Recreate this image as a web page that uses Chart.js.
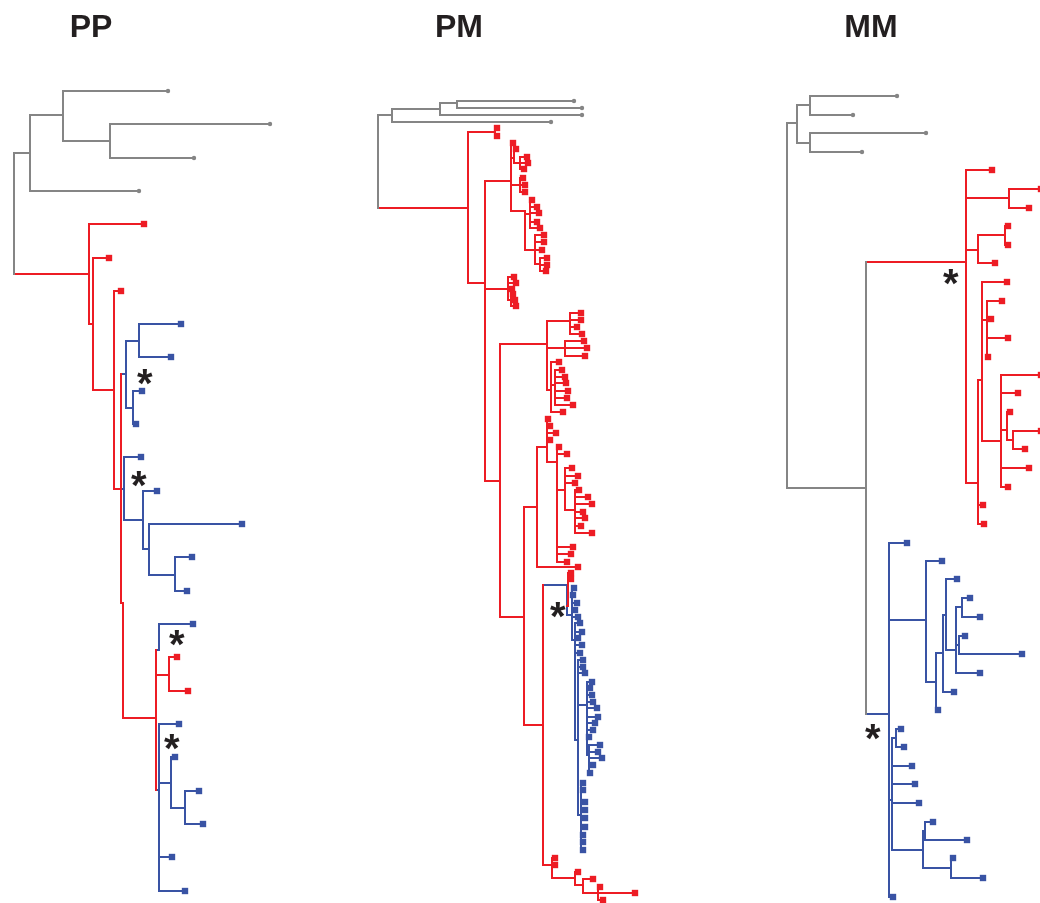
<!DOCTYPE html>
<html>
<head>
<meta charset="utf-8">
<script src="https://cdn.jsdelivr.net/npm/chart.js@4.4.1/dist/chart.umd.min.js"></script>
<style>
  html, body { margin: 0; padding: 0; background: #fff; }
  canvas { display: block; }
</style>
</head>
<body>
<canvas id="chart" width="1040" height="903"></canvas>
<script>
// panel titles
const panelNames = ['PP', 'PM', 'MM'];

// tree nodes: [id, parent, depth from root, vertical position, group]
// group: o = outgroup (grey), p = red clade, m = blue clade; leaves have no id
const ppTree = [
  ['r', '', 0, 214, 'o'],
  ['A', 'r', 16, 153, 'o'],
  ['B', 'A', 49, 115, 'o'],
  ['', 'B', 154, 91, 'o'],
  ['C', 'B', 96, 141, 'o'],
  ['', 'C', 256, 124, 'o'],
  ['', 'C', 180, 158, 'o'],
  ['', 'A', 125, 191, 'o'],
  ['R', 'r', 75, 274, 'p'],
  ['', 'R', 130, 224, 'p'],
  ['R2', 'R', 79, 324, 'p'],
  ['', 'R2', 95, 258, 'p'],
  ['R3', 'R2', 100, 390, 'p'],
  ['', 'R3', 107, 291, 'p'],
  ['R4', 'R3', 107, 489, 'p'],
  ['B1', 'R4', 112, 374, 'm'],
  ['B1a', 'B1', 125, 341, 'm'],
  ['', 'B1a', 167, 324, 'm'],
  ['', 'B1a', 157, 357, 'm'],
  ['B1b', 'B1', 119, 408, 'm'],
  ['', 'B1b', 128, 391, 'm'],
  ['', 'B1b', 122, 424, 'm'],
  ['B2', 'R4', 110, 489, 'm'],
  ['', 'B2', 127, 457, 'm'],
  ['B2a', 'B2', 129, 520, 'm'],
  ['', 'B2a', 143, 491, 'm'],
  ['B2b', 'B2a', 135, 549, 'm'],
  ['', 'B2b', 228, 524, 'm'],
  ['B2c', 'B2b', 161, 575, 'm'],
  ['', 'B2c', 178, 557, 'm'],
  ['', 'B2c', 173, 591, 'm'],
  ['R5', 'R4', 109, 603, 'p'],
  ['R6', 'R5', 142, 718, 'p'],
  ['B3', 'R6', 145, 650, 'm'],
  ['', 'B3', 179, 624, 'm'],
  ['Rs', 'R6', 155, 675, 'p'],
  ['', 'Rs', 163, 657, 'p'],
  ['', 'Rs', 174, 691, 'p'],
  ['B4', 'R6', 145, 790, 'm'],
  ['', 'B4', 165, 724, 'm'],
  ['B4a', 'B4', 157, 783, 'm'],
  ['', 'B4a', 161, 757, 'm'],
  ['B4b', 'B4a', 171, 808, 'm'],
  ['', 'B4b', 185, 791, 'm'],
  ['', 'B4b', 189, 824, 'm'],
  ['', 'B4', 158, 857, 'm'],
  ['', 'B4', 171, 891, 'm']
];

const pmTree = [
  ['r', '', 0, 160, 'o'],
  ['G1', 'r', 14, 115, 'o'],
  ['G2', 'G1', 62, 109, 'o'],
  ['G3', 'G2', 79, 103, 'o'],
  ['', 'G3', 196, 101, 'o'],
  ['', 'G3', 204, 108, 'o'],
  ['', 'G2', 204, 115, 'o'],
  ['', 'G1', 173, 122, 'o'],
  ['P1', 'r', 90, 208, 'p'],
  ['Pa', 'P1', 117, 132, 'p'],
  ['', 'Pa', 119, 128, 'p'],
  ['', 'Pa', 119, 136, 'p'],
  ['P2', 'P1', 107, 283, 'p'],
  ['P3', 'P2', 133, 181, 'p'],
  ['', 'P3', 135, 143, 'p'],
  ['n31', 'P3', 136, 158, 'p'],
  ['', 'n31', 138, 149, 'p'],
  ['n311', 'n31', 142, 163, 'p'],
  ['', 'n311', 149, 157, 'p'],
  ['', 'n311', 150, 163, 'p'],
  ['', 'n311', 146, 169, 'p'],
  ['n32', 'P3', 142, 185, 'p'],
  ['', 'n32', 145, 178, 'p'],
  ['', 'n32', 147, 185, 'p'],
  ['', 'n32', 147, 192, 'p'],
  ['P3b', 'P3', 147, 211, 'p'],
  ['n33', 'P3b', 152, 214, 'p'],
  ['', 'n33', 154, 200, 'p'],
  ['', 'n33', 159, 207, 'p'],
  ['', 'n33', 161, 213, 'p'],
  ['', 'n33', 159, 222, 'p'],
  ['', 'n33', 162, 228, 'p'],
  ['n34', 'P3b', 157, 250, 'p'],
  ['', 'n34', 166, 235, 'p'],
  ['', 'n34', 166, 242, 'p'],
  ['', 'n34', 164, 250, 'p'],
  ['n35', 'n34', 162, 264, 'p'],
  ['', 'n35', 169, 258, 'p'],
  ['', 'n35', 169, 265, 'p'],
  ['', 'n35', 168, 271, 'p'],
  ['P4', 'P2', 130, 289, 'p'],
  ['', 'P4', 136, 277, 'p'],
  ['', 'P4', 138, 283, 'p'],
  ['', 'P4', 134, 289, 'p'],
  ['n41', 'P4', 133, 300, 'p'],
  ['', 'n41', 135, 294, 'p'],
  ['', 'n41', 137, 300, 'p'],
  ['', 'n41', 138, 306, 'p'],
  ['P5', 'P2', 122, 481, 'p'],
  ['M1', 'P5', 169, 344, 'p'],
  ['M1a', 'M1', 192, 321, 'p'],
  ['', 'M1a', 203, 313, 'p'],
  ['', 'M1a', 203, 320, 'p'],
  ['', 'M1a', 199, 327, 'p'],
  ['', 'M1a', 204, 334, 'p'],
  ['M1b', 'M1', 187, 348, 'p'],
  ['', 'M1b', 206, 341, 'p'],
  ['', 'M1b', 209, 348, 'p'],
  ['', 'M1b', 207, 356, 'p'],
  ['M1c', 'M1', 173, 390, 'p'],
  ['', 'M1c', 181, 362, 'p'],
  ['M1d', 'M1c', 177, 385, 'p'],
  ['', 'M1d', 184, 370, 'p'],
  ['', 'M1d', 187, 377, 'p'],
  ['', 'M1d', 188, 383, 'p'],
  ['', 'M1d', 190, 391, 'p'],
  ['', 'M1d', 189, 398, 'p'],
  ['', 'M1d', 195, 405, 'p'],
  ['', 'M1c', 185, 412, 'p'],
  ['P5b', 'P5', 146, 617, 'p'],
  ['M2', 'P5b', 159, 507, 'p'],
  ['M2a', 'M2', 169, 447, 'p'],
  ['', 'M2a', 170, 419, 'p'],
  ['', 'M2a', 172, 426, 'p'],
  ['', 'M2a', 178, 433, 'p'],
  ['', 'M2a', 172, 440, 'p'],
  ['M2b', 'M2a', 179, 462, 'p'],
  ['', 'M2b', 181, 447, 'p'],
  ['', 'M2b', 189, 454, 'p'],
  ['M2c', 'M2b', 187, 490, 'p'],
  ['', 'M2c', 194, 468, 'p'],
  ['', 'M2c', 200, 476, 'p'],
  ['', 'M2c', 197, 483, 'p'],
  ['M2d', 'M2c', 197, 510, 'p'],
  ['', 'M2d', 201, 490, 'p'],
  ['', 'M2d', 210, 497, 'p'],
  ['', 'M2d', 214, 504, 'p'],
  ['', 'M2d', 205, 512, 'p'],
  ['', 'M2d', 207, 518, 'p'],
  ['', 'M2d', 203, 526, 'p'],
  ['', 'M2d', 214, 533, 'p'],
  ['', 'M2b', 195, 547, 'p'],
  ['', 'M2b', 193, 554, 'p'],
  ['', 'M2b', 189, 562, 'p'],
  ['', 'M2', 200, 567, 'p'],
  ['P5c', 'P5b', 165, 725, 'p'],
  ['Q', 'P5c', 189, 585, 'm'],
  ['QR', 'Q', 190, 606, 'p'],
  ['', 'QR', 193, 573, 'p'],
  ['', 'QR', 193, 579, 'p'],
  ['QB1', 'Q', 194, 615, 'm'],
  ['', 'QB1', 196, 588, 'm'],
  ['', 'QB1', 195, 595, 'm'],
  ['', 'QB1', 199, 603, 'm'],
  ['', 'QB1', 197, 610, 'm'],
  ['', 'QB1', 200, 617, 'm'],
  ['QB2', 'QB1', 197, 640, 'm'],
  ['', 'QB2', 202, 623, 'm'],
  ['', 'QB2', 204, 632, 'm'],
  ['', 'QB2', 200, 638, 'm'],
  ['', 'QB2', 204, 645, 'm'],
  ['', 'QB2', 202, 653, 'm'],
  ['QB3', 'QB2', 200, 740, 'm'],
  ['', 'QB3', 205, 660, 'm'],
  ['', 'QB3', 205, 667, 'm'],
  ['', 'QB3', 207, 673, 'm'],
  ['QB4', 'QB3', 209, 705, 'm'],
  ['', 'QB4', 214, 682, 'm'],
  ['', 'QB4', 212, 688, 'm'],
  ['', 'QB4', 214, 695, 'm'],
  ['', 'QB4', 215, 702, 'm'],
  ['', 'QB4', 219, 708, 'm'],
  ['', 'QB4', 220, 717, 'm'],
  ['', 'QB4', 217, 723, 'm'],
  ['', 'QB4', 215, 730, 'm'],
  ['', 'QB4', 211, 737, 'm'],
  ['QB6', 'QB4', 211, 755, 'm'],
  ['', 'QB6', 222, 745, 'm'],
  ['', 'QB6', 220, 752, 'm'],
  ['', 'QB6', 224, 758, 'm'],
  ['', 'QB6', 215, 765, 'm'],
  ['', 'QB6', 212, 773, 'm'],
  ['QB5', 'QB3', 203, 815, 'm'],
  ['', 'QB5', 205, 783, 'm'],
  ['', 'QB5', 205, 790, 'm'],
  ['', 'QB5', 207, 802, 'm'],
  ['', 'QB5', 207, 810, 'm'],
  ['', 'QB5', 207, 818, 'm'],
  ['', 'QB5', 207, 827, 'm'],
  ['', 'QB5', 205, 835, 'm'],
  ['', 'QB5', 205, 842, 'm'],
  ['', 'QB5', 205, 850, 'm'],
  ['P6', 'P5c', 174, 865, 'p'],
  ['', 'P6', 177, 858, 'p'],
  ['', 'P6', 177, 865, 'p'],
  ['P7', 'P6', 197, 878, 'p'],
  ['', 'P7', 200, 872, 'p'],
  ['P8', 'P7', 205, 885, 'p'],
  ['', 'P8', 215, 879, 'p'],
  ['P9', 'P8', 220, 893, 'p'],
  ['', 'P9', 222, 887, 'p'],
  ['', 'P9', 257, 893, 'p'],
  ['', 'P9', 225, 900, 'p']
];

const mmTree = [
  ['r', '', 0, 300, 'o'],
  ['g1', 'r', 10, 123, 'o'],
  ['g2', 'g1', 23, 105, 'o'],
  ['', 'g2', 110, 96, 'o'],
  ['', 'g2', 66, 115, 'o'],
  ['g3', 'g1', 23, 143, 'o'],
  ['', 'g3', 139, 133, 'o'],
  ['', 'g3', 75, 152, 'o'],
  ['gx', 'r', 79, 488, 'o'],
  ['RM', 'gx', 179, 262, 'p'],
  ['', 'RM', 205, 170, 'p'],
  ['RMa', 'RM', 222, 198, 'p'],
  ['', 'RMa', 254, 189, 'p'],
  ['', 'RMa', 242, 208, 'p'],
  ['RMb', 'RM', 191, 250, 'p'],
  ['RMb1', 'RMb', 218, 235, 'p'],
  ['', 'RMb1', 221, 226, 'p'],
  ['', 'RMb1', 221, 245, 'p'],
  ['', 'RMb', 208, 263, 'p'],
  ['RMe', 'RM', 191, 483, 'p'],
  ['RMc', 'RMe', 195, 380, 'p'],
  ['', 'RMc', 220, 282, 'p'],
  ['RMc1', 'RMc', 200, 320, 'p'],
  ['', 'RMc1', 215, 301, 'p'],
  ['', 'RMc1', 204, 319, 'p'],
  ['', 'RMc1', 221, 338, 'p'],
  ['', 'RMc1', 201, 357, 'p'],
  ['RMd', 'RMc', 214, 441, 'p'],
  ['', 'RMd', 254, 375, 'p'],
  ['', 'RMd', 231, 393, 'p'],
  ['RMd1', 'RMd', 220, 430, 'p'],
  ['', 'RMd1', 223, 412, 'p'],
  ['RMd2', 'RMd1', 226, 440, 'p'],
  ['', 'RMd2', 254, 431, 'p'],
  ['', 'RMd2', 238, 449, 'p'],
  ['', 'RMd', 242, 468, 'p'],
  ['', 'RMd', 221, 487, 'p'],
  ['', 'RMe', 196, 505, 'p'],
  ['', 'RMe', 197, 524, 'p'],
  ['BM', 'gx', 102, 714, 'm'],
  ['', 'BM', 120, 543, 'm'],
  ['BMa', 'BM', 139, 620, 'm'],
  ['', 'BMa', 155, 561, 'm'],
  ['BMb', 'BMa', 149, 682, 'm'],
  ['BMc', 'BMb', 156, 653, 'm'],
  ['BMd', 'BMc', 159, 615, 'm'],
  ['', 'BMd', 170, 579, 'm'],
  ['BMe', 'BMd', 169, 650, 'm'],
  ['BMf', 'BMe', 175, 607, 'm'],
  ['', 'BMf', 183, 598, 'm'],
  ['', 'BMf', 193, 617, 'm'],
  ['BMg', 'BMe', 172, 645, 'm'],
  ['', 'BMg', 178, 636, 'm'],
  ['', 'BMg', 235, 654, 'm'],
  ['', 'BMe', 193, 673, 'm'],
  ['', 'BMc', 167, 692, 'm'],
  ['', 'BMb', 151, 710, 'm'],
  ['BMh', 'BM', 105, 800, 'm'],
  ['BMi', 'BMh', 109, 738, 'm'],
  ['', 'BMi', 114, 729, 'm'],
  ['', 'BMi', 117, 747, 'm'],
  ['', 'BMh', 125, 766, 'm'],
  ['', 'BMh', 128, 784, 'm'],
  ['', 'BMh', 132, 803, 'm'],
  ['BMj', 'BMh', 136, 850, 'm'],
  ['BMk', 'BMj', 138, 831, 'm'],
  ['', 'BMk', 146, 822, 'm'],
  ['', 'BMk', 180, 840, 'm'],
  ['BMl', 'BMj', 164, 868, 'm'],
  ['', 'BMl', 166, 858, 'm'],
  ['', 'BMl', 196, 878, 'm'],
  ['', 'BM', 106, 897, 'm']
];

// asterisk marks: [panel, depth, vertical position]
const starMarks = [
  [0, 131, 377], [0, 125, 479], [0, 163, 638], [0, 158, 742],
  [1, 180, 610],
  [2, 164, 277], [2, 86, 732]
];

// layout
const trees = [ppTree, pmTree, mmTree];
const panelRootX = [14, 378, 787];
const titleX = [91, 459, 871];
const titleBaseline = 37;
const groupColors = { o: '#858585', p: '#ed1c24', m: '#3953a4' };

const lines = { o: [], p: [], m: [] };
const tips = { o: [], p: [], m: [] };
const gap = { x: null, y: null };

function addTree(nodes, x0) {
  const byId = {};
  const kids = {};
  nodes.forEach(n => {
    if (n[0]) byId[n[0]] = n;
    if (n[1]) (kids[n[1]] = kids[n[1]] || []).push(n);
  });
  nodes.forEach(n => {
    const [id, par, x, y, g] = n;
    if (par) {
      const p = byId[par];
      lines[g].push({ x: x0 + p[2], y: y }, { x: x0 + x, y: y }, gap);
    }
    if (id && kids[id]) {
      // vertical spans the children and the node's own attachment point
      const ys = kids[id].map(k => k[3]);
      if (par) ys.push(y);
      lines[g].push({ x: x0 + x, y: Math.min(...ys) }, { x: x0 + x, y: Math.max(...ys) }, gap);
    } else {
      tips[g].push({ x: x0 + x, y: y });
    }
  });
}

trees.forEach((t, i) => addTree(t, panelRootX[i]));

const datasets = [];
['o', 'p', 'm'].forEach(g => {
  datasets.push({
    data: lines[g],
    showLine: true,
    borderColor: groupColors[g],
    borderWidth: 2,
    borderCapStyle: 'square',
    pointRadius: 0,
    spanGaps: false
  });
});
['o', 'p', 'm'].forEach(g => {
  datasets.push({
    data: tips[g],
    showLine: false,
    pointStyle: g === 'o' ? 'circle' : 'rect',
    pointRadius: g === 'o' ? 2.2 : 4.5,
    backgroundColor: groupColors[g],
    borderWidth: 0
  });
});

const labelsPlugin = {
  id: 'labels',
  afterDatasetsDraw(chart) {
    const { ctx, scales: { x, y } } = chart;
    ctx.save();
    ctx.fillStyle = '#231f20';
    ctx.font = 'bold 32px "Liberation Sans", Arial, sans-serif';
    ctx.textAlign = 'center';
    ctx.textBaseline = 'alphabetic';
    panelNames.forEach((t, i) => {
      ctx.fillText(t, x.getPixelForValue(titleX[i]), y.getPixelForValue(titleBaseline));
    });
    ctx.font = 'bold 40px "Liberation Sans", Arial, sans-serif';
    ctx.textAlign = 'left';
    const m = ctx.measureText('*');
    starMarks.forEach(([p, dx, sy]) => {
      const cx = x.getPixelForValue(panelRootX[p] + dx);
      const cy = y.getPixelForValue(sy);
      const bx = cx - (m.actualBoundingBoxRight - m.actualBoundingBoxLeft) / 2;
      const by = cy + (m.actualBoundingBoxAscent - m.actualBoundingBoxDescent) / 2;
      ctx.fillText('*', bx, by);
    });
    ctx.restore();
  }
};

new Chart(document.getElementById('chart'), {
  type: 'scatter',
  data: { datasets: datasets },
  options: {
    responsive: false,
    animation: false,
    events: [],
    layout: { padding: 0, autoPadding: false },
    plugins: { legend: { display: false }, tooltip: { enabled: false } },
    scales: {
      x: { type: 'linear', min: 0, max: 1040, display: false },
      y: { type: 'linear', min: 0, max: 903, reverse: true, display: false }
    }
  },
  plugins: [labelsPlugin]
});
</script>
</body>
</html>
